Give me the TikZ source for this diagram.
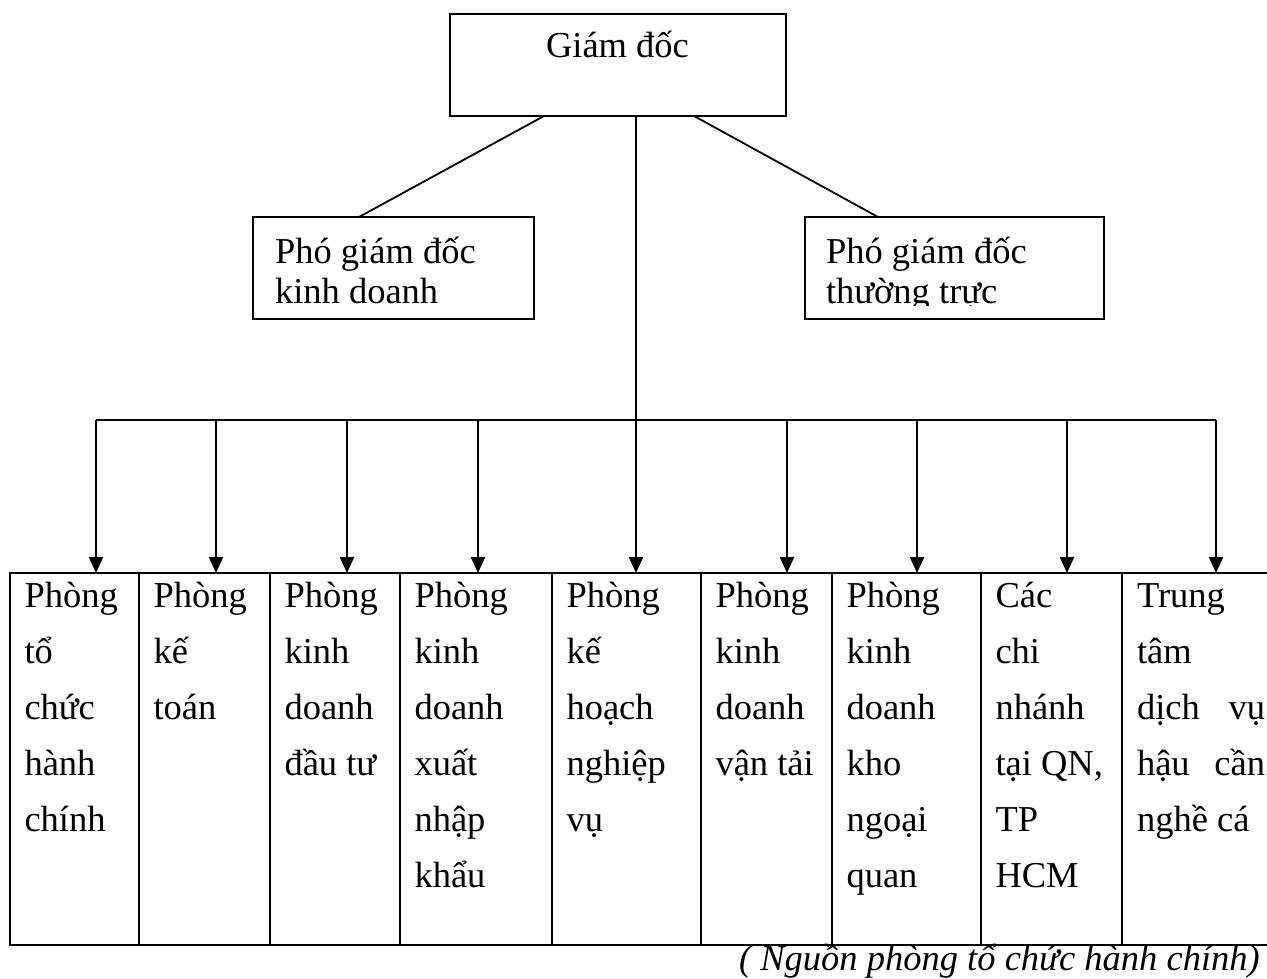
\documentclass[tikz,border=0pt]{standalone}
\usepackage{fontspec}
\setmainfont{Liberation Serif}
\usetikzlibrary{arrows.meta}
\newcommand{\colpar}[2]{\parbox[t]{#1}{\fontsize{36.5}{56}\selectfont\raggedright #2}}
\newcommand{\toppar}[2]{\parbox[t]{#1}{\fontsize{36.5}{40}\selectfont\raggedright #2}}
\tikzset{
  boxline/.style={draw, line width=2.4pt, inner sep=0pt, outer sep=0pt, anchor=north west},
  conn/.style={line width=1.8pt},
  busline/.style={line width=2.2pt},
  arr/.style={line width=2.4pt, -{Triangle[length=16pt,width=14pt]}},
  txt/.style={inner sep=0pt, outer sep=0pt, anchor=base west},
}
\begin{document}
\begin{tikzpicture}[x=1pt,y=-1pt]
\useasboundingbox (0,0) rectangle (1267,979);
\clip (0,0) rectangle (1267,979);

% top boxes
\node[boxline, minimum width=336pt, minimum height=102pt] (gd) at (450,14) {};
\node[txt, font=\fontsize{36.5}{40}\selectfont] (gdt) at (546,58) {Giám đốc};

\node[boxline, minimum width=281pt, minimum height=102pt] (pkd) at (253,217) {};
\node[txt] (pkdt) at (275,263) {\toppar{250pt}{Phó giám đốc\\kinh doanh}};

\node[boxline, minimum width=299pt, minimum height=102pt] (ptt) at (805,217) {};
\begin{scope}
\clip (806,218) rectangle (1103,305);
\node[txt] (pttt) at (826,263) {\toppar{260pt}{Phó giám đốc\\thường trực}};
\end{scope}

% connectors from director to deputies
\draw[conn] ([xshift=94pt]gd.south west) -- ([xshift=106pt]pkd.north west);
\draw[conn] ([xshift=244pt]gd.south west) -- ([xshift=73pt]ptt.north west);

% bottom table
\node[boxline, minimum width=129pt, minimum height=372pt] (c1) at (10,573) {};
\node[boxline, minimum width=131pt, minimum height=372pt] (c2) at (139,573) {};
\node[boxline, minimum width=130pt, minimum height=372pt] (c3) at (270,573) {};
\node[boxline, minimum width=152pt, minimum height=372pt] (c4) at (400,573) {};
\node[boxline, minimum width=149pt, minimum height=372pt] (c5) at (552,573) {};
\node[boxline, minimum width=131pt, minimum height=372pt] (c6) at (701,573) {};
\node[boxline, minimum width=149pt, minimum height=372pt] (c7) at (832,573) {};
\node[boxline, minimum width=141pt, minimum height=372pt] (c8) at (981,573) {};
\node[boxline, minimum width=170pt, minimum height=372pt] (c9) at (1122,573) {};

\node[txt] (t1x) at (24.5,607) {\colpar{125pt}{Phòng\\tổ\\chức\\hành\\chính}};
\node[txt] (t2x) at (153.5,607) {\colpar{125pt}{Phòng\\kế\\toán}};
\node[txt] (t3x) at (284.5,607) {\colpar{125pt}{Phòng\\kinh\\doanh\\đầu tư}};
\node[txt] (t4x) at (414.5,607) {\colpar{140pt}{Phòng\\kinh\\doanh\\xuất\\nhập\\khẩu}};
\node[txt] (t5x) at (566.5,607) {\colpar{140pt}{Phòng\\kế\\hoạch\\nghiệp\\vụ}};
\node[txt] (t6x) at (715.5,607) {\colpar{125pt}{Phòng\\kinh\\doanh\\vận tải}};
\node[txt] (t7x) at (846.5,607) {\colpar{140pt}{Phòng\\kinh\\doanh\\kho\\ngoại\\quan}};
\node[txt] (t8x) at (995.5,607) {\colpar{140pt}{Các\\chi\\nhánh\\tại QN,\\TP\\HCM}};
\node[txt] (t9x) at (1137,607) {\colpar{140pt}{Trung\\tâm\\\makebox[128pt][s]{dịch vụ}\\\makebox[128pt][s]{hậu cần}\\nghề cá}};

% bus and arrows
\coordinate (g0) at ([xshift=186pt]gd.south west);
\coordinate (b1) at (96,420);
\coordinate (b2) at (216,420);
\coordinate (b3) at (347,420);
\coordinate (b4) at (478,420);
\coordinate (b6) at (787,420);
\coordinate (b7) at (917,420);
\coordinate (b8) at (1067,420);
\coordinate (b9) at (1216,420);

\draw[busline] (b1) -- (b9);
\draw[arr] (g0) -- (g0 |- c5.north);
\draw[arr] (b1) -- (b1 |- c1.north);
\draw[arr] (b2) -- (b2 |- c2.north);
\draw[arr] (b3) -- (b3 |- c3.north);
\draw[arr] (b4) -- (b4 |- c4.north);
\draw[arr] (b6) -- (b6 |- c6.north);
\draw[arr] (b7) -- (b7 |- c7.north);
\draw[arr] (b8) -- (b8 |- c8.north);
\draw[arr] (b9) -- (b9 |- c9.north);

% source caption
\node[inner sep=0pt, anchor=base east, font=\itshape\fontsize{36.5}{40}\selectfont] (src) at (1260,970) {( Nguồn phòng tổ chức hành chính)};
\end{tikzpicture}
\end{document}
